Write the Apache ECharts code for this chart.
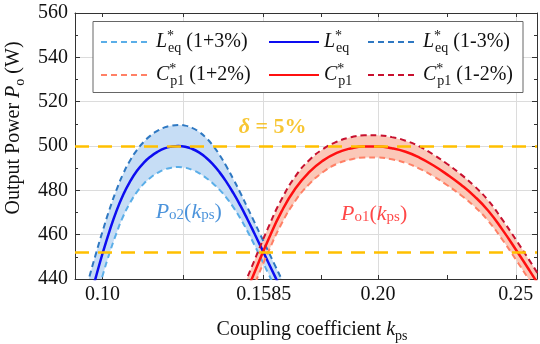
<!DOCTYPE html>
<html>
<head>
<meta charset="utf-8">
<script src="https://cdn.jsdelivr.net/npm/echarts@6/dist/echarts.min.js"></script>
<style>
  html, body { margin: 0; padding: 0; background: #fff; }
  #chart { width: 540px; height: 344px; }
</style>
</head>
<body>
<div id="chart"></div>
<script>
// coupling coefficient grid for the Leq* curves
var kBlue = [0.0925, 0.095, 0.0975, 0.100, 0.1025, 0.105, 0.1075, 0.110, 0.1125, 0.115, 0.1175, 0.120, 0.1225, 0.125, 0.1275,
             0.130, 0.1325, 0.135, 0.1375, 0.140, 0.1425, 0.145, 0.1475, 0.150, 0.1525, 0.155, 0.1575, 0.160, 0.1625, 0.165, 0.1675];
var pLeq = [417, 429, 440.5, 451.5, 461.5, 470.5, 478, 484, 488.8, 492.5, 495.3, 497.4, 498.9, 499.7, 500,
            499.7, 498.7, 497.1, 494.8, 491.8, 488.1, 483.7, 478.7, 473.2, 467.2, 460.9, 454.4, 447.9, 441.4, 434.9, 428.4];
var pLeqPlus = [406, 418.5, 430.5, 441.5, 451.5, 460.5, 468.3, 474.4, 479.3, 483.0, 485.8, 487.9, 489.4, 490.2, 490.5,
                490.2, 489.2, 487.8, 485.7, 483.2, 480.2, 476.6, 472.3, 467.4, 461.8, 455.7, 449.3, 442.9, 436.4, 429.9, 423.4];
var pLeqMinus = [428, 440, 451, 461.5, 471.3, 480, 487.5, 493.5, 498.2, 501.9, 504.8, 506.9, 508.4, 509.2, 509.5,
                 509.2, 508.2, 506.4, 503.8, 500.3, 495.9, 490.7, 485, 478.9, 472.5, 466, 459.4, 452.9, 446.4, 439.9, 433.4];

// coupling coefficient grid for the Cp1* curves
var kRed = [0.150, 0.155, 0.160, 0.165, 0.170, 0.175, 0.180, 0.185, 0.190, 0.195, 0.200, 0.205,
            0.210, 0.215, 0.220, 0.225, 0.230, 0.235, 0.240, 0.245, 0.250, 0.255, 0.260];
var pCp1 = [427.5, 442.5, 457.3, 470.5, 480.8, 488.2, 493.4, 496.9, 498.9, 499.8, 499.8, 499.0,
            497.4, 494.8, 491.3, 487.2, 482.6, 477.3, 470.8, 462.5, 453.3, 443.8, 434.0];
var pCp1Plus = [422, 437, 451.8, 465, 475.3, 482.8, 488.2, 491.9, 493.9, 494.8, 494.8, 494,
                492.4, 489.8, 486.4, 482.4, 477.9, 472.7, 466.2, 458, 448.8, 439.3, 429.5];
var pCp1Minus = [433, 448, 462.8, 476, 486.3, 493.6, 498.6, 501.9, 503.9, 504.8, 504.8, 504,
                 502.4, 499.8, 496.2, 492, 487.3, 481.9, 475.4, 467, 457.8, 448.3, 438.5];

var xTicks = [0.10, 0.1585, 0.20, 0.25];
var xTickText = ['0.10', '0.1585', '0.20', '0.25'];
var xMinorTicks = [0.12925, 0.17925, 0.225];
var xGridLines = [0.12925, 0.1585, 0.20, 0.25];
var deltaLines = [500, 452];

var serif = "'Liberation Serif', 'DejaVu Serif', serif";
var gold = '#FFC000';

function pair(xs, ys) {
  return xs.map(function (x, i) { return [x, ys[i]]; });
}

// shaded region between the two tolerance curves
function band(xs, lo, hi, color) {
  var mid = Math.floor(xs.length / 2);
  return {
    type: 'custom', silent: true, clip: true, z: 1,
    data: [[xs[mid], hi[mid]]],
    renderItem: function (params, api) {
      var pts = [];
      for (var i = 0; i < xs.length; i++) pts.push(api.coord([xs[i], hi[i]]));
      for (var j = xs.length - 1; j >= 0; j--) pts.push(api.coord([xs[j], lo[j]]));
      return { type: 'polygon', shape: { points: pts }, style: { fill: color } };
    }
  };
}

function curve(name, xs, ys, color, dashed) {
  return {
    name: name, type: 'line', data: pair(xs, ys), symbol: 'none', smooth: true, z: 3,
    lineStyle: { color: color, width: dashed ? 2 : 2.5, type: dashed ? [6, 4] : 'solid' },
    itemStyle: { color: color }
  };
}

var allTicks = xTicks.concat(xMinorTicks).sort(function (a, b) { return a - b; });

var legendRich = {
  i: { fontFamily: serif, fontSize: 20, fontStyle: 'italic', color: '#111', lineHeight: 26 },
  sup: { fontFamily: serif, fontSize: 14, color: '#111', lineHeight: 14, verticalAlign: 'top', width: 1 },
  sub: { fontFamily: serif, fontSize: 14, color: '#111', lineHeight: 14, verticalAlign: 'bottom' },
  n: { fontFamily: serif, fontSize: 20, color: '#111', lineHeight: 26 }
};
function legendText(name) {
  var sym = name.charAt(0);
  var sub = sym === 'L' ? 'eq' : 'p1';
  var rest = name.slice(1 + sub.length);
  return '{i|' + sym + '}{sup|*}{sub|' + sub + '}{n|' + rest + '}';
}
function legendCol(names, left) {
  return {
    data: names, left: left, top: 29, orient: 'vertical', padding: 0,
    itemWidth: 50, itemHeight: 14, itemGap: 7, selectedMode: false,
    itemStyle: { opacity: 0, borderWidth: 0 },
    formatter: legendText, textStyle: { rich: legendRich }
  };
}

var chart = echarts.init(document.getElementById('chart'));
var option = {
  animation: false,
  grid: { left: 75, right: 3, top: 13, bottom: 65, outerBoundsMode: 'none' },
  legend: [
    legendCol(['Leq (1+3%)', 'Cp1 (1+2%)'], 100),
    legendCol(['Leq', 'Cp1'], 268),
    legendCol(['Leq (1-3%)', 'Cp1 (1-2%)'], 367)
  ],
  graphic: [{
    type: 'rect', left: 92.5, top: 21, z: 3, silent: true,
    shape: { width: 430, height: 71 },
    style: { fill: '#fff', stroke: '#666', lineWidth: 1 }
  }],
  xAxis: [{
    type: 'value', position: 'bottom', min: 0.09, max: 0.2577,
    axisLine: { show: true, onZero: false, lineStyle: { color: '#333' } },
    axisTick: { show: true, inside: true, length: 4, customValues: allTicks, lineStyle: { color: '#333' } },
    axisLabel: {
      customValues: xTicks, margin: 6, fontFamily: serif, fontSize: 20, color: '#111',
      formatter: function (v) { var i = xTicks.indexOf(v); return i >= 0 ? xTickText[i] : ''; }
    },
    splitLine: { show: false },
    name: '{n|Coupling coefficient }{i|k}{s|ps}', nameLocation: 'middle', nameGap: 38,
    nameTextStyle: {
      padding: [0, 0, 0, 12],
      rich: {
        n: { fontFamily: serif, fontSize: 20, color: '#111', lineHeight: 26 },
        i: { fontFamily: serif, fontSize: 20, fontStyle: 'italic', color: '#111', lineHeight: 26 },
        s: { fontFamily: serif, fontSize: 14, color: '#111', lineHeight: 14, verticalAlign: 'bottom' }
      }
    }
  }, {
    type: 'value', position: 'top', min: 0.09, max: 0.2577,
    axisLine: { show: true, onZero: false, lineStyle: { color: '#333' } },
    axisTick: { show: true, inside: true, length: 4, customValues: allTicks, lineStyle: { color: '#333' } },
    axisLabel: { show: false }, splitLine: { show: false }
  }, {
    type: 'value', position: 'bottom', min: 0.09, max: 0.2577,
    axisLine: { show: false }, axisLabel: { show: false },
    axisTick: { show: false, customValues: xGridLines },
    splitLine: { show: true, lineStyle: { color: '#dcdcdc', width: 1 } }
  }],
  yAxis: [{
    type: 'value', position: 'left', min: 440, max: 560, interval: 20,
    axisLine: { show: true, onZero: false, lineStyle: { color: '#333' } },
    axisTick: { show: true, inside: true, length: 5, lineStyle: { color: '#333' } },
    minorTick: { show: true, splitNumber: 2, length: 3, lineStyle: { color: '#333' } },
    axisLabel: { margin: 7, fontFamily: serif, fontSize: 20, color: '#111' },
    splitLine: { show: true, lineStyle: { color: '#dcdcdc', width: 1 } },
    name: '{n|Output Power }{i|P}{s|o}{n| (W)}', nameLocation: 'middle', nameGap: 42,
    nameTextStyle: {
      padding: [0, 0, 0, 36],
      rich: {
        n: { fontFamily: serif, fontSize: 20, color: '#111', lineHeight: 26 },
        i: { fontFamily: serif, fontSize: 20, fontStyle: 'italic', color: '#111', lineHeight: 26 },
        s: { fontFamily: serif, fontSize: 14, color: '#111', lineHeight: 14, verticalAlign: 'bottom' }
      }
    }
  }, {
    type: 'value', position: 'right', min: 440, max: 560, interval: 20,
    axisLine: { show: true, onZero: false, lineStyle: { color: '#333' } },
    axisTick: { show: true, inside: true, length: 5, lineStyle: { color: '#333' } },
    minorTick: { show: true, splitNumber: 2, length: 3, lineStyle: { color: '#333' } },
    axisLabel: { show: false }, splitLine: { show: false }
  }],
  series: [
    band(kBlue, pLeqPlus, pLeqMinus, '#C6DDF5'),
    band(kRed, pCp1Plus, pCp1Minus, '#FBC8B8'),
    curve('Leq (1+3%)', kBlue, pLeqPlus, '#5AAEE8', true),
    curve('Leq (1-3%)', kBlue, pLeqMinus, '#2E78C2', true),
    curve('Leq', kBlue, pLeq, '#0D0DF0', false),
    curve('Cp1 (1+2%)', kRed, pCp1Plus, '#FF8066', true),
    curve('Cp1 (1-2%)', kRed, pCp1Minus, '#C8102E', true),
    curve('Cp1', kRed, pCp1, '#FF1010', false)
  ]
};

// δ = 5% limits
option.series.push({
  type: 'line', data: [], symbol: 'none', silent: true, z: 4,
  markLine: {
    symbol: 'none', silent: true, label: { show: false },
    lineStyle: { color: gold, width: 2.5, type: [14, 9] },
    data: deltaLines.map(function (v) { return { yAxis: v }; })
  }
});

// text annotations
var noteRich = function (color, size) {
  return {
    i: { fontFamily: serif, fontSize: size, fontStyle: 'italic', color: color },
    n: { fontFamily: serif, fontSize: size, color: color },
    s: { fontFamily: serif, fontSize: Math.round(size * 0.7), color: color, verticalAlign: 'bottom', lineHeight: 14 },
    d: { fontFamily: serif, fontSize: size, fontStyle: 'italic', fontWeight: 'bold', color: color },
    b: { fontFamily: serif, fontSize: size, fontWeight: 'bold', color: color }
  };
};
option.series.push({
  type: 'scatter', symbolSize: 0, silent: true, z: 5,
  data: [
    { value: [0.1313, 470.2], label: { formatter: '{i|P}{s|o2}{n|(}{i|k}{s|ps}{n|)}', rich: noteRich('#1E78D2', 22) } },
    { value: [0.1986, 469.3], label: { formatter: '{i|P}{s|o1}{n|(}{i|k}{s|ps}{n|)}', rich: noteRich('#FF1A1A', 22) } },
    { value: [0.1617, 508.6], label: { formatter: '{d|δ}{b| = 5%}', rich: noteRich('#F5B800', 22) } }
  ],
  label: { show: true, position: 'inside' }
});

chart.setOption(option);
</script>
</body>
</html>
